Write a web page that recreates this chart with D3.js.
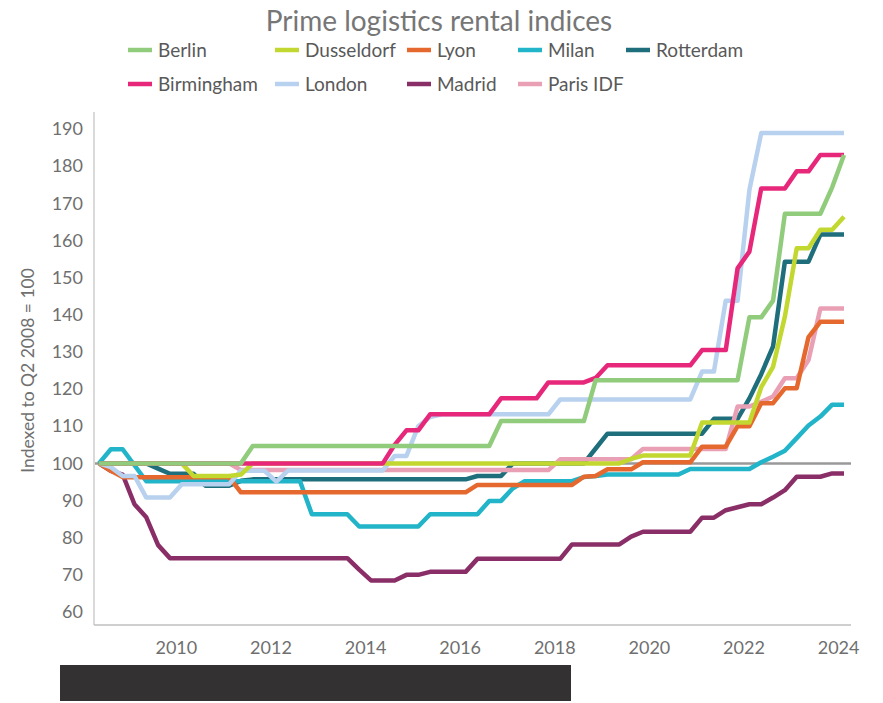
<!DOCTYPE html>
<html>
<head>
<meta charset="utf-8">
<script src="https://cdn.jsdelivr.net/npm/d3@7"></script>
<style>
  body { margin: 0; background: #fff; }
  text { font-family: Lato, "Open Sans", sans-serif; }
</style>
</head>
<body>
<script>
var width = 883, height = 703;

// quarterly index values, Q2 2008 .. Q1 2024
var berlin = [100,100,100,100,100,100,100,100,100,100,100,100,100,
  104.7,104.7,104.7,104.7,104.7,104.7,104.7,104.7,104.7,104.7,104.7,104.7,104.7,104.7,104.7,104.7,104.7,104.7,104.7,104.7,104.7,
  111.4,111.4,111.4,111.4,111.4,111.4,111.4,111.4,
  122.4,122.4,122.4,122.4,122.4,122.4,122.4,122.4,122.4,122.4,122.4,122.4,122.4,
  139.3,139.3,143.8,167.2,167.2,167.2,167.2,174.3,183];
var birmingham = [100,100,100,100,100,100,100,100,100,100,100,100,100,100,100,100,100,100,100,100,100,100,100,100,100,
  105,108.9,108.9,113.2,113.2,113.2,113.2,113.2,113.2,117.5,117.5,117.5,117.5,121.8,121.8,121.8,121.8,123,
  126.4,126.4,126.4,126.4,126.4,126.4,126.4,126.4,130.5,130.5,130.5,
  152.5,157,174,174,174,178.6,178.6,183,183,183];
var dusseldorf = [100,100,100,100,100,100,100,100,96.6,96.6,96.6,96.6,97,
  100,100,100,100,100,100,100,100,100,100,100,100,100,100,100,100,100,100,100,100,100,100,100,100,100,100,100,100,100,100,100,100,
  101.2,102.1,102.1,102.1,102.1,102.1,111,111,111,111,111,
  120.5,126,139.5,157.9,157.9,162.9,162.9,166.4];
var london = [100,99,96.6,96.6,90.8,90.8,90.8,94.4,94.4,94.4,94.4,94.4,98,98,98,95.1,
  98.1,98.1,98.1,98.1,98.1,98.1,98.1,98.1,98.1,102,102,110,112.5,
  113.2,113.2,113.2,113.2,113.2,113.2,113.2,113.2,113.2,113.2,
  117.2,117.2,117.2,117.2,117.2,117.2,117.2,117.2,117.2,117.2,117.2,117.2,
  124.7,124.7,143.8,143.8,173.6,188.9,188.9,188.9,188.9,188.9,188.9,188.9,188.9];
var lyon = [100,98,96.3,96.3,96.3,96.3,96.3,96.3,96.3,96.3,96.3,96.3,
  92.2,92.2,92.2,92.2,92.2,92.2,92.2,92.2,92.2,92.2,92.2,92.2,92.2,92.2,92.2,92.2,92.2,92.2,92.2,92.2,
  94.2,94.2,94.2,94.2,94.2,94.2,94.2,94.2,94.2,96.4,96.6,98.4,98.4,98.4,
  100.3,100.3,100.3,100.3,100.3,104.5,104.5,104.5,110,110,116.2,116.2,120.2,120.2,134,138.1,138.1,138.1];
var madrid = [100,98,97,89,85.5,78,
  74.5,74.5,74.5,74.5,74.5,74.5,74.5,74.5,74.5,74.5,74.5,74.5,74.5,74.5,74.5,74.5,
  71.4,68.5,68.5,68.5,70,70,70.8,70.8,70.8,70.8,
  74.3,74.3,74.3,74.3,74.3,74.3,74.3,74.3,78.2,78.2,78.2,78.2,78.2,80.3,
  81.6,81.6,81.6,81.6,81.6,85.4,85.4,87.4,88.2,89,89,90.8,92.8,96.4,96.4,96.4,97.3,97.3];
var milan = [100,103.8,103.8,99.5,
  95.2,95.2,95.2,95.2,95.2,95.2,95.2,95.2,95.2,95.2,95.2,95.2,95.2,95.2,
  86.3,86.3,86.3,86.3,83,83,83,83,83,83,86.3,86.3,86.3,86.3,86.3,89.9,89.9,93.3,
  95.2,95.2,95.2,95.2,95.2,96.3,96.6,97,97,97,97,97,97,97,
  98.5,98.5,98.5,98.5,98.5,98.5,100.3,101.8,103.4,106.8,110.2,112.6,115.8,115.8];
var parisIdf = [100,100,100,100,100,100,100,100,100,100,100,100,
  98.2,98.2,98.2,98.2,98.2,98.2,98.2,98.2,98.2,98.2,98.2,98.2,98.2,98.2,98.2,98.2,98.2,98.2,98.2,98.2,98.2,98.2,98.2,98.2,98.2,98.2,98.2,
  101.1,101.1,101.1,101.1,101.1,101.1,101.1,
  103.9,103.9,103.9,103.9,103.9,103.9,103.9,103.9,
  115.3,115.3,116.6,118,122.9,122.9,127.8,141.7,141.7,141.7];
var rotterdam = [100,100,100,100,100,98.6,97.2,97.2,97.2,94,94,94,95.3,
  95.7,95.7,95.7,95.7,95.7,95.7,95.7,95.7,95.7,95.7,95.7,95.7,95.7,95.7,95.7,95.7,95.7,95.7,95.7,
  96.6,96.6,96.6,100,100,100,100,100,100,100,104,
  108,108,108,108,108,108,108,108,108,112,112,112,117.5,124,131.5,154.3,154.3,154.3,161.6,161.6,161.6];

// quarter mid-points, Q2 2008 onwards
var quarters = d3.range(berlin.length).map(function(i) { return 2008.375 + i * 0.25; });
var yearTicks = [2010, 2012, 2014, 2016, 2018, 2020, 2022, 2024];
var valueTicks = [60, 70, 80, 90, 100, 110, 120, 130, 140, 150, 160, 170, 180, 190];

var series = [
  { name: "Berlin", values: berlin, color: "#90cc7c", z: 9, col: 0, row: 0 },
  { name: "Dusseldorf", values: dusseldorf, color: "#c2d830", z: 7, col: 1, row: 0 },
  { name: "Lyon", values: lyon, color: "#e5692e", z: 5, col: 2, row: 0 },
  { name: "Milan", values: milan, color: "#22b4c8", z: 3, col: 3, row: 0 },
  { name: "Rotterdam", values: rotterdam, color: "#1e6e7c", z: 1, col: 4, row: 0 },
  { name: "Birmingham", values: birmingham, color: "#e7287a", z: 8, col: 0, row: 1 },
  { name: "London", values: london, color: "#b8d1ee", z: 6, col: 1, row: 1 },
  { name: "Madrid", values: madrid, color: "#8a2e68", z: 4, col: 2, row: 1 },
  { name: "Paris IDF", values: parisIdf, color: "#e9a0b5", z: 2, col: 3, row: 1 }
];

var svg = d3.select("body").append("svg")
    .attr("width", width)
    .attr("height", height);

var x = d3.scaleLinear().domain([2008.375, 2024.125]).range([99, 844]);
var y = d3.scaleLinear().domain([60, 190]).range([612, 129]);

//Title
svg.append("text")
    .attr("x", 439).attr("y", 31)
    .attr("text-anchor", "middle")
    .attr("font-size", 28)
    .attr("fill", "#767676")
    .text("Prime logistics rental indices");

//Legend
var colX = [128, 275, 407, 518, 626];
var rowY = [50, 84];
var legend = svg.append("g").selectAll("g")
    .data(series).enter().append("g")
    .attr("transform", function(d) { return "translate(" + colX[d.col] + "," + rowY[d.row] + ")"; });
legend.append("line")
    .attr("x1", 0).attr("x2", 24)
    .attr("stroke", function(d) { return d.color; })
    .attr("stroke-width", 4.5);
legend.append("text")
    .attr("x", 30).attr("dy", "0.35em")
    .attr("font-size", 19)
    .attr("fill", "#595959")
    .text(function(d) { return d.name; });

//Axes
svg.append("line")
    .attr("x1", 94).attr("x2", 94)
    .attr("y1", y(194.6)).attr("y2", y(56.5))
    .attr("stroke", "#d9d9d9").attr("stroke-width", 2);
svg.append("line")
    .attr("x1", 94).attr("x2", 851)
    .attr("y1", y(56.5)).attr("y2", y(56.5))
    .attr("stroke", "#bfbfbf").attr("stroke-width", 1.5);

var yAxis = svg.append("g")
    .attr("transform", "translate(83,0)")
    .call(d3.axisLeft(y).tickValues(valueTicks).tickSize(0).tickPadding(0));
yAxis.select(".domain").remove();
yAxis.selectAll("text")
    .attr("font-size", 18)
    .attr("fill", "#6f6f6f")
    .attr("font-family", "Lato, sans-serif");

var xAxis = svg.append("g")
    .attr("transform", "translate(0," + y(56.5) + ")")
    .call(d3.axisBottom(x).tickValues(yearTicks).tickFormat(d3.format("d")).tickSize(0).tickPadding(16));
xAxis.select(".domain").remove();
xAxis.selectAll("text")
    .attr("font-size", 18)
    .attr("fill", "#6f6f6f")
    .attr("font-family", "Lato, sans-serif");

svg.append("text")
    .attr("transform", "translate(34," + y(125) + ") rotate(-90)")
    .attr("text-anchor", "middle")
    .attr("font-size", 17.5)
    .attr("fill", "#6f6f6f")
    .text("Indexed to Q2 2008 = 100");

//Reference line at 100
svg.append("line")
    .attr("x1", 95).attr("x2", 851)
    .attr("y1", y(100)).attr("y2", y(100))
    .attr("stroke", "#999999").attr("stroke-width", 2.5);

//Draw the lines
var line = d3.line()
    .x(function(d, i) { return x(quarters[i]); })
    .y(function(d) { return y(d); });

svg.append("g").selectAll("path")
    .data(series.slice().sort(function(a, b) { return a.z - b.z; }))
    .enter().append("path")
    .attr("d", function(d) { return line(d.values); })
    .attr("fill", "none")
    .attr("stroke", function(d) { return d.color; })
    .attr("stroke-width", 4.5)
    .attr("stroke-linejoin", "round");

//Redaction bar under the chart
svg.append("rect")
    .attr("x", 60).attr("y", 665)
    .attr("width", 511).attr("height", 36)
    .attr("fill", "#333132");
</script>
</body>
</html>
